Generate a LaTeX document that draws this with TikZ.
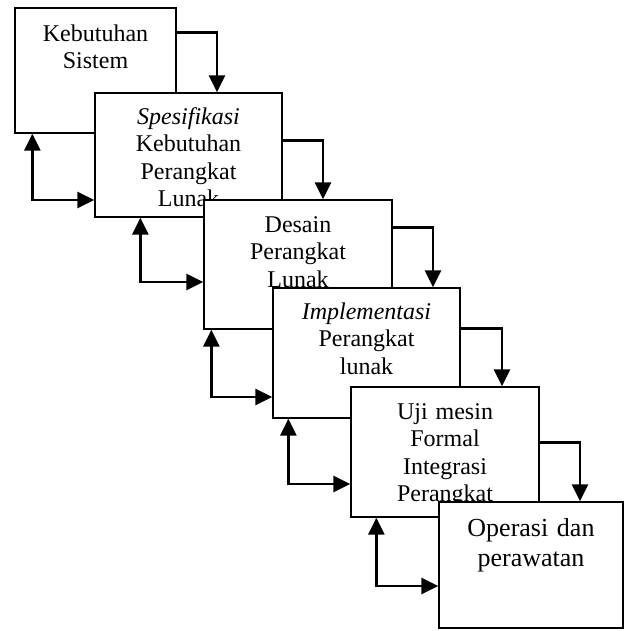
\documentclass[tikz,border=0pt]{standalone}
\usepackage{fontspec}
\setmainfont{Liberation Serif}
\usetikzlibrary{arrows.meta,calc}

\begin{document}
\begin{tikzpicture}[x=1pt,y=-1pt,
      tahap/.style={draw, line width=1.3pt, fill=white, inner sep=0pt},
      teks/.style={anchor=base, text width=170pt, align=center, inner sep=0pt,
                   font=\fontsize{24}{27.5}\selectfont},
      maju/.style={-{Triangle[length=17pt,width=16pt]}, line width=2.6pt},
      umpan/.style={{Triangle[length=17pt,width=16pt]}-{Triangle[length=17pt,width=16pt]},
                    line width=2.6pt}]
    \useasboundingbox (0,0) rectangle (633,631);
    % tahapan, tiap kotak menutupi kotak sebelumnya
    \node[tahap, minimum width=161pt, minimum height=125pt] (b1) at (95.5,70.5) {};
    \node[teks] (t1) at ([yshift=-34pt]b1.north) {Kebutuhan\\ Sistem};
    \node[tahap, minimum width=187pt, minimum height=124pt] (b2) at (188.5,155) {};
    \node[teks] (t2) at ([yshift=-32pt]b2.north) {\textit{Spesifikasi}\\ Kebutuhan\\ Perangkat\\ Lunak};
    \node[tahap, minimum width=188pt, minimum height=129pt] (b3) at (298,264.5) {};
    \node[teks] (t3) at ([yshift=-33pt]b3.north) {Desain\\ Perangkat\\ Lunak};
    \node[tahap, minimum width=187pt, minimum height=130pt] (b4) at (366.5,353) {};
    \node[teks] (t4) at ([yshift=-32pt]b4.north) {\textit{Implementasi}\\ Perangkat\\ lunak};
    \node[tahap, minimum width=188pt, minimum height=130pt] (b5) at (445,452) {};
    \node[teks] (t5) at ([yshift=-33pt]b5.north) {Uji mesin\\ Formal\\ Integrasi\\ Perangkat};
    \node[tahap, minimum width=184pt, minimum height=126pt] (b6) at (531,565) {};
    \node[teks, font=\fontsize{26}{30}\selectfont] (t6) at ([yshift=-35pt]b6.north) {Operasi dan\\ perawatan};

    % alur maju
    \draw[maju] ([yshift=-25pt]b1.north east) -| ([xshift=28.5pt]b2.north);
    \draw[maju] ([yshift=-48pt]b2.north east) -| ([xshift=25pt]b3.north);
    \draw[maju] ([yshift=-28pt]b3.north east) -| ([xshift=66.5pt]b4.north);
    \draw[maju] ([yshift=-41pt]b4.north east) -| ([xshift=57pt]b5.north);
    \draw[maju] ([yshift=-56pt]b5.north east) -| ([xshift=49pt]b6.north);

    % umpan balik
    \draw[umpan] ([xshift=18pt]b1.south west) |- ([yshift=-45pt]b2.west);
    \draw[umpan] ([xshift=46pt]b2.south west) |- ([yshift=-17.5pt]b3.west);
    \draw[umpan] ([xshift=8pt]b3.south west) |- ([yshift=-44pt]b4.west);
    \draw[umpan] ([xshift=16pt]b4.south west) |- ([yshift=-32pt]b5.west);
    \draw[umpan] ([xshift=26pt]b5.south west) |- ([yshift=-21pt]b6.west);
\end{tikzpicture}
\end{document}
